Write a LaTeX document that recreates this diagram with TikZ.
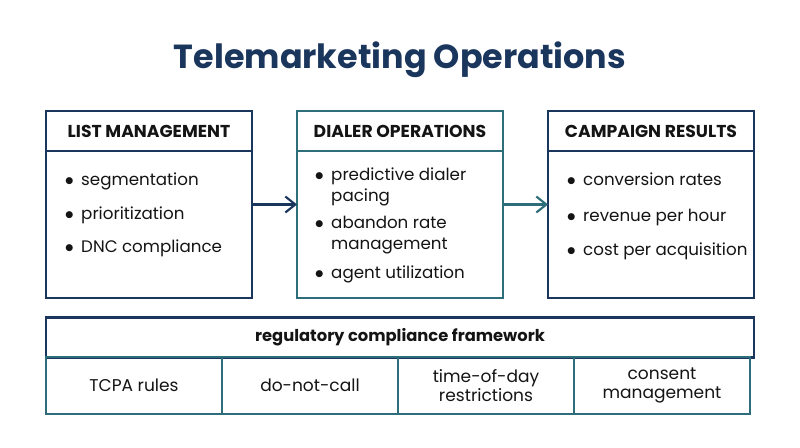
\documentclass[tikz,border=0pt]{standalone}
\usepackage{fontspec}
\setmainfont{Poppins}
\newfontfamily\dotfont{DejaVu Sans}
\usetikzlibrary{positioning,arrows.meta,calc}
\definecolor{navy}{RGB}{27,54,93}
\definecolor{teal}{RGB}{45,110,122}
\definecolor{inkgray}{RGB}{20,20,20}

\newcommand{\bitem}[1]{\begin{tabular}{@{}l@{\hspace{4.5pt}}l@{}}\raisebox{0.7pt}{\dotfont\fontsize{5.2}{6}\selectfont ●} & #1\end{tabular}}

\begin{document}
\begin{tikzpicture}[
    x=0.02cm, y=-0.02cm,
    headbox/.style={
        draw=navy,
        line width=1.2pt,
        fill=white,
        outer sep=0pt,
        minimum width=4.12cm,
        minimum height=0.8cm,
        align=center,
        font=\fontsize{9.8}{12}\selectfont\bfseries,
        text=inkgray
    },
    bodybox/.style={
        draw=navy,
        line width=1.2pt,
        outer sep=0pt,
        minimum width=4.12cm,
        minimum height=2.94cm
    },
    item/.style={
        anchor=west,
        inner sep=0pt,
        font=\fontsize{9.5}{12}\selectfont,
        text=inkgray
    },
    cellbox/.style={
        draw=teal,
        line width=1.2pt,
        outer sep=0pt,
        minimum width=3.52cm,
        minimum height=1.14cm,
        align=center,
        font=\fontsize{9.7}{11}\selectfont,
        text=inkgray
    },
    arr/.style={
        -{Straight Barb[length=2mm,width=3.2mm]},
        line width=1.2pt
    }
]
\useasboundingbox (0,0) rectangle (800,447);

% ---------------- Title ----------------
\node[font=\fontsize{19}{22}\selectfont\bfseries, text=navy] (title) at (400,60) {Telemarketing Operations};

% ---------------- List management ----------------
\node[headbox] (listhead) at (149,131) {LIST MANAGEMENT};
\node[bodybox, below=0pt of listhead] (listbody) {};
\node[item] (list1) at (65,181) {\bitem{segmentation}};
\node[item] (list2) at (65,215) {\bitem{prioritization}};
\node[item] (list3) at (65,248) {\bitem{DNC compliance}};

% ---------------- Dialer operations ----------------
\node[headbox, draw=teal] (dialhead) at (400,131) {DIALER OPERATIONS};
\node[bodybox, draw=teal, below=0pt of dialhead] (dialbody) {};
\node[item] (dial1) at (315,186.5) {\bitem{predictive dialer\\ & pacing}};
\node[item] (dial2) at (315,234.5) {\bitem{abandon rate\\ & management}};
\node[item] (dial3) at (315,274) {\bitem{agent utilization}};

% ---------------- Campaign results ----------------
\node[headbox] (camphead) at (651,131) {CAMPAIGN RESULTS};
\node[bodybox, below=0pt of camphead] (campbody) {};
\node[item] (camp1) at (567,181) {\bitem{conversion rates}};
\node[item] (camp2) at (567,217) {\bitem{revenue per hour}};
\node[item] (camp3) at (567,251) {\bitem{cost per acquisition}};

\draw[arr, navy] ($(listhead.north east)!0.5!(listbody.south east)$) -- ($(dialhead.north west)!0.5!(dialbody.south west)$);
\draw[arr, teal] ($(dialhead.north east)!0.5!(dialbody.south east)$) -- ($(camphead.north west)!0.5!(campbody.south west)$);

% ---------------- Compliance framework ----------------
\node[headbox, minimum width=14.16cm, font=\fontsize{9.3}{11}\selectfont\bfseries] (fwhead) at (400,337.5) {regulatory compliance framework};
\node[cellbox] (tcpa) at (134,385.5) {TCPA rules};
\node[cellbox] (dnc) at (310,385.5) {do-not-call};
\node[cellbox] (tod) at (486,385.5) {time-of-day\\restrictions};
\node[cellbox] (consent) at (662,385.5) {consent\\management};

\end{tikzpicture}
\end{document}
